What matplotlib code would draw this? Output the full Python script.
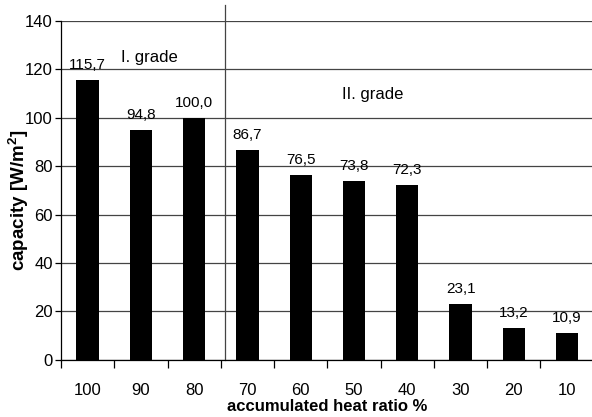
import matplotlib
matplotlib.use("Agg")
import matplotlib.pyplot as plt
import numpy as np

categories = ["100", "90", "80", "70", "60", "50", "40", "30", "20", "10"]
values = [115.7, 94.8, 100.0, 86.7, 76.5, 73.8, 72.3, 23.1, 13.2, 10.9]
yticks = [0, 20, 40, 60, 80, 100, 120, 140]

plt.rcParams['font.family'] = ['Liberation Sans', 'DejaVu Sans']
plt.rcParams['mathtext.fontset'] = 'custom'
plt.rcParams['mathtext.rm'] = 'Liberation Sans'
plt.rcParams['mathtext.bf'] = 'Liberation Sans:bold'

fig = plt.figure(figsize=(5.92, 4.17), dpi=100)
ax = fig.add_axes([0.103, 0.137, 0.900, 0.813])

x = np.arange(len(categories))
ax.bar(x, values, width=0.42, color='black', zorder=3)
for xi, v in zip(x, values):
    ax.annotate(f"{v:.1f}".replace('.', ','), (xi, v), xytext=(0, 8),
                textcoords='offset points', ha='center', va='baseline',
                fontsize=11, zorder=4)

ax.set_xlim(-0.5, len(categories) - 0.5)
ax.set_ylim(0, 140)
ax.set_yticks(yticks)
ax.set_yticklabels([str(t) for t in yticks], fontsize=12)
ax.yaxis.grid(True, color='#444444', linewidth=0.9, zorder=0)
ax.tick_params(axis='y', length=4, width=0.9, pad=2)

ax.set_xticks(x)
ax.set_xticklabels(categories, fontsize=12)
ax.set_xticks(np.arange(len(categories) + 1) - 0.5, minor=True)
ax.tick_params(axis='x', which='major', length=0, pad=17)
ax.tick_params(axis='x', which='minor', length=6, width=0.9, direction='out')

for s in ['top', 'right']:
    ax.spines[s].set_visible(False)
ax.spines['left'].set_linewidth(0.9)
ax.spines['bottom'].set_linewidth(0.9)

# grade separator
ax.plot([2.57, 2.57], [0, 146.5], color='#444444', linewidth=0.9, clip_on=False, zorder=2)
ax.text(1.15, 125, "I. grade", ha='center', va='center', fontsize=12)
ax.text(5.35, 109.5, "II. grade", ha='center', va='center', fontsize=12)

ax.set_xlabel("accumulated heat ratio %", fontsize=12, fontweight='bold')
ax.xaxis.set_label_coords(0.5, -0.115)
ax.set_ylabel("capacity [W/m$^\\mathbf{2}$]", fontsize=13.5, fontweight='bold')
ax.yaxis.set_label_coords(-0.056, 0.47)

fig.savefig("out.png", dpi=100)
